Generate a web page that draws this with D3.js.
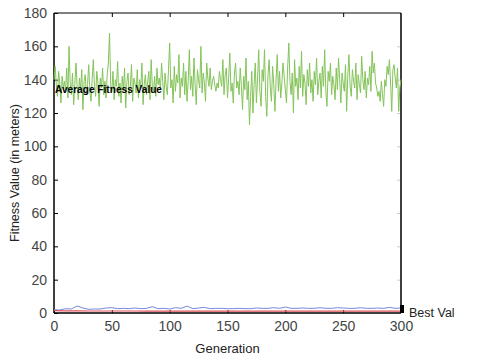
<!DOCTYPE html>
<html>
<head>
<meta charset="utf-8">
<script src="https://cdn.jsdelivr.net/npm/d3@7"></script>
<style>
  body { margin: 0; background: #fff; }
  text { font-family: "Liberation Sans", Arial, sans-serif; }
</style>
</head>
<body>
<svg id="chart" width="478" height="361"></svg>
<script>
// Average fitness per generation (0..300)
var avgFitness = [
  140,148,137,130,145,138,126,142,135,139,
  133,147,129,160,138,131,144,125,137,150,
  136,128,141,134,146,122,139,143,131,137,
  149,133,127,140,152,136,130,145,138,124,
  141,135,147,131,139,129,143,150,168,137,
  133,145,128,140,136,151,130,138,126,142,
  134,147,123,139,144,131,136,149,127,141,
  138,132,146,129,140,135,150,125,137,143,
  131,139,145,128,152,136,133,142,130,147,
  137,141,134,150,139,128,144,136,131,146,
  162,135,140,126,148,133,143,138,155,129,
  141,136,150,131,145,127,139,158,134,142,
  130,153,137,125,146,140,135,160,132,144,
  138,127,150,141,136,147,134,139,142,137,
  133,138,135,145,140,136,152,131,143,147,
  129,141,156,133,138,126,144,150,135,139,
  131,147,136,122,142,134,153,128,139,113,
  130,145,120,137,150,126,141,158,133,124,
  146,139,158,130,118,143,152,135,127,148,
  137,121,140,155,133,145,129,138,150,142,
  134,126,147,162,139,131,144,120,152,136,
  141,128,148,135,157,130,143,138,125,146,
  136,150,132,140,127,145,137,153,131,139,
  144,129,148,136,158,133,124,145,139,150,
  131,142,137,128,147,134,153,140,126,144,
  138,133,149,121,142,155,136,130,146,139,
  135,150,128,143,137,132,154,140,134,145,
  129,141,137,148,133,157,144,150,138,135,
  130,133,127,139,131,124,140,136,148,143,
  152,138,121,146,149,141,135,147,121,135,
  140
];

// Second series, sampled every 5 generations
var otherGens = [0,5,10,15,20,25,30,35,40,45,50,55,60,65,70,75,80,85,90,95,
  100,105,110,115,120,125,130,135,140,145,150,155,160,165,170,175,180,185,190,195,
  200,205,210,215,220,225,230,235,240,245,250,255,260,265,270,275,280,285,290,295,300];
var otherVals = [2.0,1.8,2.6,2.4,4.2,3.0,2.2,2.4,2.4,3.0,3.2,2.6,2.8,2.6,3.0,2.6,2.8,3.8,2.6,2.8,
  2.4,3.2,2.8,4.2,2.6,3.0,3.4,2.6,2.8,2.8,2.6,2.6,2.8,2.6,2.6,3.0,2.8,2.8,3.2,2.8,
  3.6,2.8,2.8,3.0,2.8,2.8,3.2,2.8,2.8,3.2,3.0,2.8,2.8,3.2,2.8,2.8,3.0,2.8,3.4,2.8,3.0];

// Best value, sampled every 10 generations
var bestGens = [0,10,20,30,40,50,60,70,80,90,100,110,120,130,140,150,160,170,180,190,200,210,220,230,240,250,260,270,280,290,300];
var bestVals = [1.4,1.3,1.3,1.2,1.2,1.2,1.2,1.2,1.1,1.1,1.1,1.1,1.1,1.1,1.1,1.1,1.1,1.1,1.1,1.1,1.1,1.1,1.1,1.1,1.1,1.1,1.1,1.1,1.1,1.1,1.1];

var xTicks = [0, 50, 100, 150, 200, 250, 300];
var yTicks = [0, 20, 40, 60, 80, 100, 120, 140, 160, 180];

var svg = d3.select("#chart");
var plotL = 54, plotR = 401, plotT = 13, plotB = 313;

var x = d3.scaleLinear().domain([0, 300]).range([plotL, plotR]);
var y = d3.scaleLinear().domain([0, 180]).range([plotB, plotT]);

// Tick labels on the left
svg.append("g")
  .attr("transform", `translate(${plotL},0)`)
  .call(d3.axisLeft(y).tickValues(yTicks).tickSize(-4).tickPadding(7))
  .call(g => g.select(".domain").remove())
  .call(g => g.selectAll("line").attr("stroke", "#000"))
  .call(g => g.selectAll("text").attr("font-size", 14).attr("fill", "#444")
    .attr("font-family", "DejaVu Sans"));

// Tick labels on the bottom
svg.append("g")
  .attr("transform", `translate(0,${plotB})`)
  .call(d3.axisBottom(x).tickValues(xTicks).tickSize(-3).tickPadding(8))
  .call(g => g.select(".domain").remove())
  .call(g => g.selectAll("line").attr("stroke", "#000"))
  .call(g => g.selectAll("text").attr("font-size", 14).attr("fill", "#444")
    .attr("font-family", "DejaVu Sans"));

// Top ticks, no labels
svg.append("g")
  .attr("transform", `translate(0,${plotT})`)
  .call(d3.axisTop(x).tickValues(xTicks.slice(1, -1)).tickSize(-4).tickFormat(""))
  .call(g => g.select(".domain").remove())
  .call(g => g.selectAll("line").attr("stroke", "#000"));

// Right ticks, faint
svg.append("g")
  .attr("transform", `translate(${plotR},0)`)
  .call(d3.axisRight(y).tickValues(yTicks.slice(1, -1)).tickSize(-4).tickFormat(""))
  .call(g => g.select(".domain").remove())
  .call(g => g.selectAll("line").attr("stroke", "#ccc"));

// Frame
svg.append("line").attr("x1", plotL).attr("x2", plotR).attr("y1", plotT).attr("y2", plotT)
  .attr("stroke", "#000").attr("stroke-width", 1);
svg.append("line").attr("x1", plotL).attr("x2", plotR).attr("y1", plotB).attr("y2", plotB)
  .attr("stroke", "#000").attr("stroke-width", 1.5);
svg.append("line").attr("x1", plotL).attr("x2", plotL).attr("y1", plotT).attr("y2", plotB)
  .attr("stroke", "#000").attr("stroke-width", 1.5);
svg.append("line").attr("x1", plotR).attr("x2", plotR).attr("y1", plotT).attr("y2", plotB)
  .attr("stroke", "#000").attr("stroke-width", 1.5);

// Lines
var line = d3.line().x(d => x(d[0])).y(d => y(d[1]));

svg.append("path")
  .datum(avgFitness.map((v, i) => [i, v]))
  .attr("fill", "none")
  .attr("stroke", "#84c45a")
  .attr("stroke-width", 1)
  .attr("d", line);

svg.append("path")
  .datum(otherGens.map((g, i) => [g, otherVals[i]]))
  .attr("fill", "none")
  .attr("stroke", "#7788dd")
  .attr("stroke-width", 1)
  .attr("d", line);

svg.append("path")
  .datum(bestGens.map((g, i) => [g, bestVals[i]]))
  .attr("fill", "none")
  .attr("stroke", "#e0505a")
  .attr("stroke-width", 1.2)
  .attr("d", line);

// End marker and labels
svg.append("rect")
  .attr("x", x(300) - 1)
  .attr("y", y(4.8))
  .attr("width", 4)
  .attr("height", y(0) - y(4.8))
  .attr("fill", "#000");

svg.append("text")
  .attr("x", x(0) + 1)
  .attr("y", 93)
  .attr("font-size", 10.5)
  .attr("font-weight", "bold")
  .attr("textLength", 107)
  .attr("lengthAdjust", "spacingAndGlyphs")
  .attr("fill", "#000")
  .text("Average Fitness Value");

svg.append("text")
  .attr("x", 409)
  .attr("y", 317)
  .attr("font-size", 12.5)
  .attr("fill", "#222")
  .text("Best Val");

// Axis titles
svg.append("text")
  .attr("x", (plotL + plotR) / 2)
  .attr("y", 353)
  .attr("text-anchor", "middle")
  .attr("font-size", 13)
  .attr("fill", "#222")
  .text("Generation");

svg.append("text")
  .attr("transform", `translate(19,${(plotT + plotB) / 2 + 10}) rotate(-90)`)
  .attr("text-anchor", "middle")
  .attr("font-size", 12.5)
  .attr("fill", "#222")
  .text("Fitness Value (in meters)");
</script>
</body>
</html>
